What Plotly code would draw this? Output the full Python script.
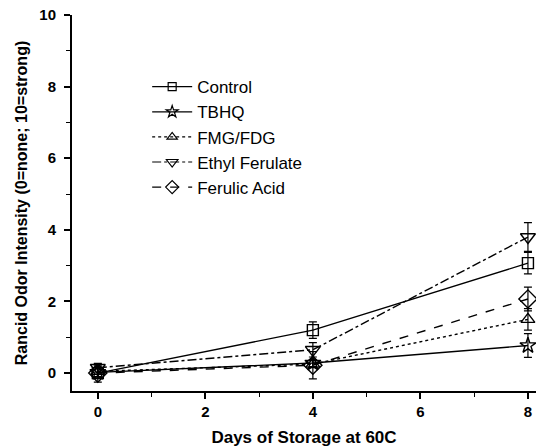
import plotly.graph_objects as go

days = [0, 4, 8]
series_names = ["Control", "TBHQ", "FMG/FDG", "Ethyl Ferulate", "Ferulic Acid"]
control = [0.0, 1.2, 3.07]
control_err = [0.15, 0.23, 0.3]
tbhq = [0.02, 0.28, 0.77]
tbhq_err = [0.15, 0.1, 0.33]
fmg = [0.05, 0.25, 1.5]
fmg_err = [0.15, 0.1, 0.3]
ethyl = [0.15, 0.65, 3.8]
ethyl_err = [0.12, 0.2, 0.4]
ferulic = [0.0, 0.22, 2.07]
ferulic_err = [0.25, 0.38, 0.33]

values = [control, tbhq, fmg, ethyl, ferulic]
errors = [control_err, tbhq_err, fmg_err, ethyl_err, ferulic_err]
symbols = ["square-open", "star-open", "triangle-up-open", "triangle-down-open", "diamond-open"]
dashes = ["solid", "solid", "dot", "dashdot", "dash"]
msizes = [11, 12, 12, 13, 14]
legend_msizes = [8, 9, 9, 10, 10]

fig = go.Figure()
for name, v, e, s, d, ms in zip(series_names, values, errors, symbols, dashes, msizes):
    fig.add_trace(go.Scatter(
        x=days, y=v, name=name, mode="lines+markers", showlegend=False,
        line=dict(color="black", width=1.4, dash=d),
        marker=dict(symbol=s, size=ms, color="black", line=dict(width=1.4, color="black")),
        error_y=dict(type="data", array=e, visible=True, color="black", thickness=1.2, width=4),
        cliponaxis=False,
    ))
# legend entries with small symbols
for name, s, d, lms in zip(series_names, symbols, dashes, legend_msizes):
    fig.add_trace(go.Scatter(
        x=[None], y=[None], name=name, mode="lines+markers",
        line=dict(color="black", width=1.2, dash=d),
        marker=dict(symbol=s, size=lms, color="black", line=dict(width=1.2, color="black")),
    ))

axis_common = dict(
    showline=True, linecolor="black", linewidth=2, mirror=False,
    ticks="outside", ticklen=6, tickwidth=1.5, tickcolor="black",
    showgrid=False, zeroline=False,
    tickfont=dict(family="Liberation Sans", size=15, color="black", weight="bold"),
    minor=dict(ticks="outside", ticklen=4, tickwidth=1.2, tickcolor="black", dtick=1, showgrid=False),
)

fig.update_layout(
    width=536, height=447,
    margin=dict(l=72, r=0, t=15, b=56),
    plot_bgcolor="white", paper_bgcolor="white",
    showlegend=True,
    legend=dict(x=0.162, y=0.856, xanchor="left", yanchor="top",
                font=dict(family="Liberation Sans", size=17, color="black"),
                bgcolor="rgba(0,0,0,0)", tracegroupgap=0, itemwidth=40),
    xaxis=dict(range=[-0.48, 8.15], tickvals=[0, 2, 4, 6, 8],
               title=dict(text="<b>Days of Storage at 60C</b>", standoff=16,
                          font=dict(family="Liberation Sans", size=17, color="black")),
               **axis_common),
    yaxis=dict(range=[-0.5, 10], tickvals=[0, 2, 4, 6, 8, 10], ticklabelstandoff=5,
               title=dict(text="<b>Rancid Odor Intensity (0=none; 10=strong)</b>", standoff=8,
                          font=dict(family="Liberation Sans", size=16, color="black")),
               **axis_common),
)

fig.write_html("out.html")
